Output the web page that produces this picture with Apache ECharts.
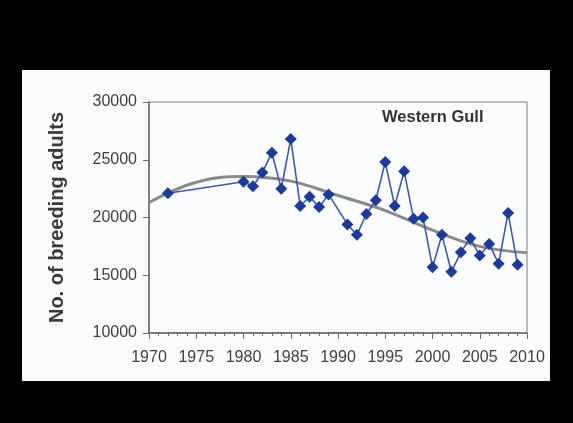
<!DOCTYPE html>
<html>
<head>
<meta charset="utf-8">
<script src="https://cdn.jsdelivr.net/npm/echarts@6/dist/echarts.min.js"></script>
<style>
  html, body { margin: 0; padding: 0; background: #000; }
  #chart { width: 573px; height: 423px; }
</style>
</head>
<body>
<div id="chart"></div>
<script>
// Western Gull breeding population, Farallon Islands survey counts
const years = [1972, 1980, 1981, 1982, 1983, 1984, 1985, 1986, 1987, 1988, 1989,
               1991, 1992, 1993, 1994, 1995, 1996, 1997, 1998, 1999, 2000,
               2001, 2002, 2003, 2004, 2005, 2006, 2007, 2008, 2009];
const adults = [22100, 23100, 22700, 23900, 25600, 22500, 26800, 21000, 21800, 20900, 22000,
                19400, 18500, 20300, 21500, 24800, 21000, 24000, 19900, 20000, 15700,
                18500, 15300, 17000, 18200, 16700, 17700, 16000, 20400, 15900];

// Fitted trend curve, sampled every five years
const trendYears = [1970, 1975, 1980, 1985, 1990, 1995, 2000, 2005, 2010];
const trendValues = [21300, 23050, 23550, 23150, 21900, 20600, 18900, 17500, 16950];

const xTicks = [1970, 1975, 1980, 1985, 1990, 1995, 2000, 2005, 2010];
const yTicks = [10000, 15000, 20000, 25000, 30000];

const chart = echarts.init(document.getElementById('chart'));

const countData = years.map((y, i) => [y, adults[i]]);
const trendData = trendYears.map((y, i) => [y, trendValues[i]]);

const labelFont = { fontFamily: 'Liberation Sans, Arial, sans-serif', fontSize: 16, color: '#404040' };

chart.setOption({
  backgroundColor: '#000',
  animation: false,
  graphic: [{
    type: 'rect',
    left: 22, top: 70,
    shape: { width: 528, height: 311 },
    style: { fill: '#fbfcfd' },
    z: -10
  }],
  title: {
    text: 'Western Gull',
    left: 382, top: 109,
    padding: 0,
    textStyle: { fontFamily: 'Liberation Sans, Arial, sans-serif', fontSize: 16.5, fontWeight: 'bold', color: '#333' }
  },
  grid: {
    left: 149, right: 46, top: 102, bottom: 90,
    show: true, borderColor: '#7a7a7a', borderWidth: 1, backgroundColor: 'transparent'
  },
  xAxis: {
    type: 'value',
    min: xTicks[0], max: xTicks[xTicks.length - 1], interval: 5,
    axisLine: { show: true, lineStyle: { color: '#6a6a6a', width: 1.5 } },
    axisTick: { show: true, length: 6, lineStyle: { color: '#6a6a6a' } },
    minorTick: { show: true, splitNumber: 5, length: 3, lineStyle: { color: '#6a6a6a' } },
    splitLine: { show: false },
    axisLabel: Object.assign({ margin: 17, formatter: v => xTicks.includes(v) ? String(v) : '' }, labelFont)
  },
  yAxis: {
    type: 'value',
    min: yTicks[0], max: yTicks[yTicks.length - 1], interval: 5000,
    name: 'No. of breeding adults',
    nameLocation: 'middle',
    nameGap: 82,
    nameRotate: 90,
    nameTextStyle: { fontFamily: 'Liberation Sans, Arial, sans-serif', fontSize: 20, fontWeight: 'bold', color: '#3a3a3a' },
    axisLine: { show: true, lineStyle: { color: '#6a6a6a', width: 1.5 } },
    axisTick: { show: true, length: 6, lineStyle: { color: '#6a6a6a' } },
    splitLine: { show: false },
    axisLabel: Object.assign({ margin: 12, formatter: v => String(v) }, labelFont)
  },
  series: [
    {
      name: 'Trend',
      type: 'line',
      data: trendData,
      smooth: 0.4,
      showSymbol: false,
      lineStyle: { color: '#8a8a8a', width: 3 },
      z: 2
    },
    {
      name: 'Breeding adults',
      type: 'line',
      data: countData,
      symbol: 'diamond',
      symbolSize: 12,
      itemStyle: { color: '#1c3a98' },
      lineStyle: { color: '#3d5aa8', width: 1.6 },
      z: 3
    }
  ]
});
</script>
</body>
</html>
